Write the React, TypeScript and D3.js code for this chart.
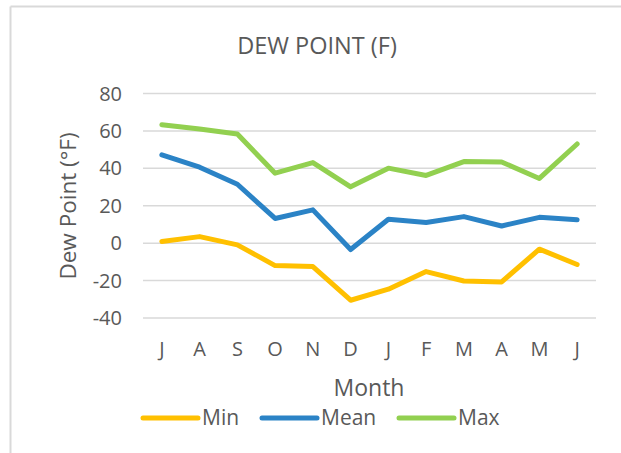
import React from "react";
import * as d3 from "d3";

const months = ["J", "A", "S", "O", "N", "D", "J", "F", "M", "A", "M", "J"];
const minVals = [0.9, 3.5, -0.9, -12, -12.5, -30.5, -24.6, -15.2, -20.2, -20.7, -3.2, -11.4];
const meanVals = [47.2, 40.6, 31.5, 13.2, 17.8, -3.4, 12.8, 11, 14.2, 9.2, 13.8, 12.5];
const maxVals = [63.3, 61, 58.3, 37.4, 43.1, 30.1, 40.1, 36.2, 43.6, 43.4, 34.6, 53];
const yTicks = [80, 60, 40, 20, 0, -20, -40];

const seriesNames = ["Min", "Mean", "Max"];
const seriesColors = ["#FFC000", "#2B83C6", "#92D050"];
const seriesData = [minVals, meanVals, maxVals];

const W = 621;
const H = 453;
const FONT = "'Open Sans', sans-serif";
const TXT = "#595959";

export default function App() {
  const x = d3.scaleBand<number>().domain(d3.range(months.length)).range([143, 596]);
  const y = d3.scaleLinear().domain([-40, 80]).range([318, 93.5]);
  const line = d3
    .line<number>()
    .x((_, i) => (x(i) as number) + x.bandwidth() / 2)
    .y((d) => y(d));

  const legendX = [143, 262, 399];

  return (
    <svg
      width={W}
      height={H}
      style={{ position: "absolute", left: 0, top: 0, background: "#fff" }}
      fontFamily={FONT}
    >
      <rect x={0} y={0} width={W} height={H} fill="#fff" />
      <line x1={10.5} y1={6.5} x2={W} y2={6.5} stroke="#d9d9d9" strokeWidth={2} />
      <line x1={10.5} y1={6.5} x2={10.5} y2={H} stroke="#d9d9d9" strokeWidth={2} />

      <text x={317} y={54} textAnchor="middle" fontSize={23.5} fill={TXT}>
        DEW POINT (F)
      </text>

      {yTicks.map((t) => (
        <g key={t}>
          <line x1={143} x2={596} y1={y(t)} y2={y(t)} stroke="#d9d9d9" strokeWidth={1.5} />
          <text x={122} y={y(t) + 7} textAnchor="end" fontSize={20} fill={TXT}>
            {t}
          </text>
        </g>
      ))}

      {months.map((m, i) => (
        <text
          key={i}
          x={(x(i) as number) + x.bandwidth() / 2}
          y={356}
          textAnchor="middle"
          fontSize={20}
          fill={TXT}
        >
          {m}
        </text>
      ))}

      <text
        transform={`translate(76,206) rotate(-90)`}
        textAnchor="middle"
        fontSize={22.5}
        fill={TXT}
      >
        Dew Point (°F)
      </text>

      <text x={369} y={396} textAnchor="middle" fontSize={23} fill={TXT}>
        Month
      </text>

      {seriesData.map((vals, si) => (
        <path
          key={si}
          d={line(vals) as string}
          fill="none"
          stroke={seriesColors[si]}
          strokeWidth={5}
          strokeLinejoin="round"
          strokeLinecap="round"
        />
      ))}

      {seriesNames.map((n, si) => (
        <g key={n}>
          <line
            x1={legendX[si]}
            x2={legendX[si] + 55}
            y1={418}
            y2={418}
            stroke={seriesColors[si]}
            strokeWidth={5}
            strokeLinecap="round"
          />
          <text x={legendX[si] + 59} y={425} fontSize={21} fill={TXT}>
            {n}
          </text>
        </g>
      ))}
    </svg>
  );
}
